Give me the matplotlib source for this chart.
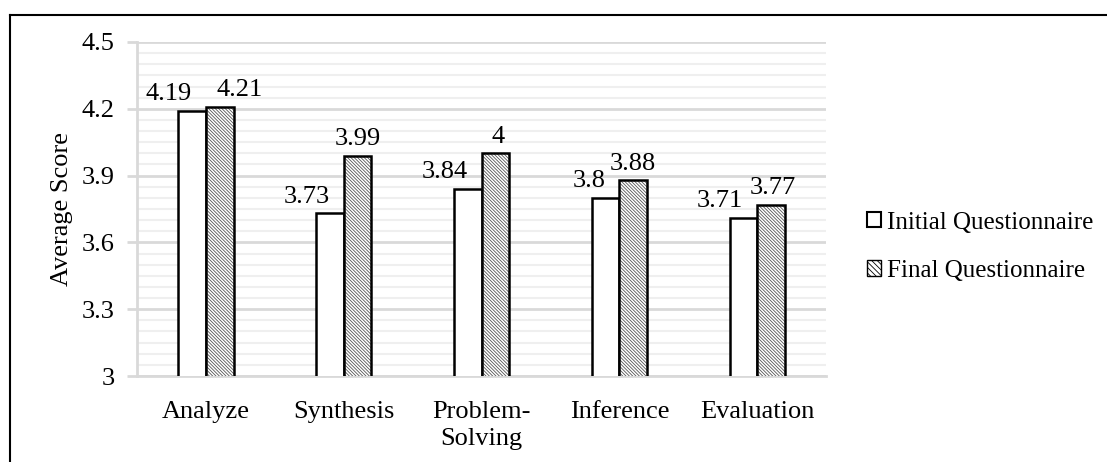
import matplotlib
matplotlib.use('Agg')
import matplotlib.pyplot as plt
from matplotlib.patches import Patch
from matplotlib.lines import Line2D
import numpy as np

# 数据
categories = ['Analyze', 'Synthesis', 'Problem-\nSolving', 'Inference', 'Evaluation']
initial_scores = [4.19, 3.73, 3.84, 3.80, 3.71]
final_scores = [4.21, 3.99, 4.00, 3.88, 3.77]
initial_labels = ['4.19', '3.73', '3.84', '3.8', '3.71']
final_labels = ['4.21', '3.99', '4', '3.88', '3.77']
series_names = ['Initial Questionnaire', 'Final Questionnaire']

plt.rcParams['font.family'] = ['Liberation Serif', 'DejaVu Serif']
plt.rcParams['hatch.linewidth'] = 0.6

fig = plt.figure(figsize=(11.07, 4.62), dpi=100)
ax = fig.add_axes([0.1238, 0.1861, 0.6224, 0.7230])

x = np.arange(len(categories))
width = 0.2

# 白色柱
ax.bar(x - width / 2, initial_scores, width, color='white',
       edgecolor='black', linewidth=1.8, zorder=3)
# 斜线柱：先画斜线，再画黑边
ax.bar(x + width / 2, final_scores, width, color='white',
       edgecolor='#555555', hatch='\\' * 10, linewidth=0, zorder=3)
ax.bar(x + width / 2, final_scores, width, color='none',
       edgecolor='black', linewidth=1.8, zorder=4)

# 数值标签
final_dx = [14, 0, 2, 0, 1]
for i in range(len(categories)):
    ax.annotate(initial_labels[i], (x[i], initial_scores[i]),
                xytext=(-10, 4), textcoords='offset points',
                ha='right', va='bottom', fontsize=19)
    ax.annotate(final_labels[i], (x[i] + width / 2, final_scores[i]),
                xytext=(final_dx[i], 4), textcoords='offset points',
                ha='center', va='bottom', fontsize=19)

ax.set_xlim(-0.5, len(categories) - 0.5)
ax.set_ylim(3, 4.5)
ax.set_yticks(np.arange(3, 4.51, 0.3))
ax.set_yticklabels(['3', '3.3', '3.6', '3.9', '4.2', '4.5'])
ax.set_yticks(np.arange(3, 4.51, 0.05), minor=True)
ax.set_xticks(x)
ax.set_xticklabels(categories, fontsize=19, linespacing=1.3)

ax.grid(axis='y', which='major', color='#d9d9d9', linewidth=2, zorder=0)
ax.grid(axis='y', which='minor', color='#efefef', linewidth=1.5, zorder=0)
ax.set_axisbelow(True)

for s in ['top', 'right']:
    ax.spines[s].set_visible(False)
ax.spines['left'].set_color('#d9d9d9')
ax.spines['left'].set_linewidth(2)
ax.spines['bottom'].set_color('#d9d9d9')
ax.spines['bottom'].set_linewidth(2)

ax.tick_params(axis='y', which='major', length=7, width=2, color='#d9d9d9',
               labelsize=19, pad=9)
ax.tick_params(axis='y', which='minor', length=0)
ax.tick_params(axis='x', length=0, pad=18)

ax.set_ylabel('Average Score', fontsize=19, labelpad=6)

# 图例
handles = [Patch(facecolor='white', edgecolor='black', linewidth=1.5),
           Patch(facecolor='white', edgecolor='black', hatch='\\' * 6, linewidth=1.0)]
fig.legend(handles, series_names, loc='center left',
           bbox_to_anchor=(0.763, 0.466), frameon=False, fontsize=18,
           handlelength=0.55, handleheight=0.55, handletextpad=0.25,
           labelspacing=1.05)

# 外框
fig.add_artist(Line2D([10 / 1107, 1.0], [1 - 15 / 462, 1 - 15 / 462],
                      transform=fig.transFigure, color='black', linewidth=1.5))
fig.add_artist(Line2D([10 / 1107, 10 / 1107], [0, 1 - 15 / 462],
                      transform=fig.transFigure, color='black', linewidth=1.5))

fig.savefig('out.png', dpi=100, facecolor='white')
